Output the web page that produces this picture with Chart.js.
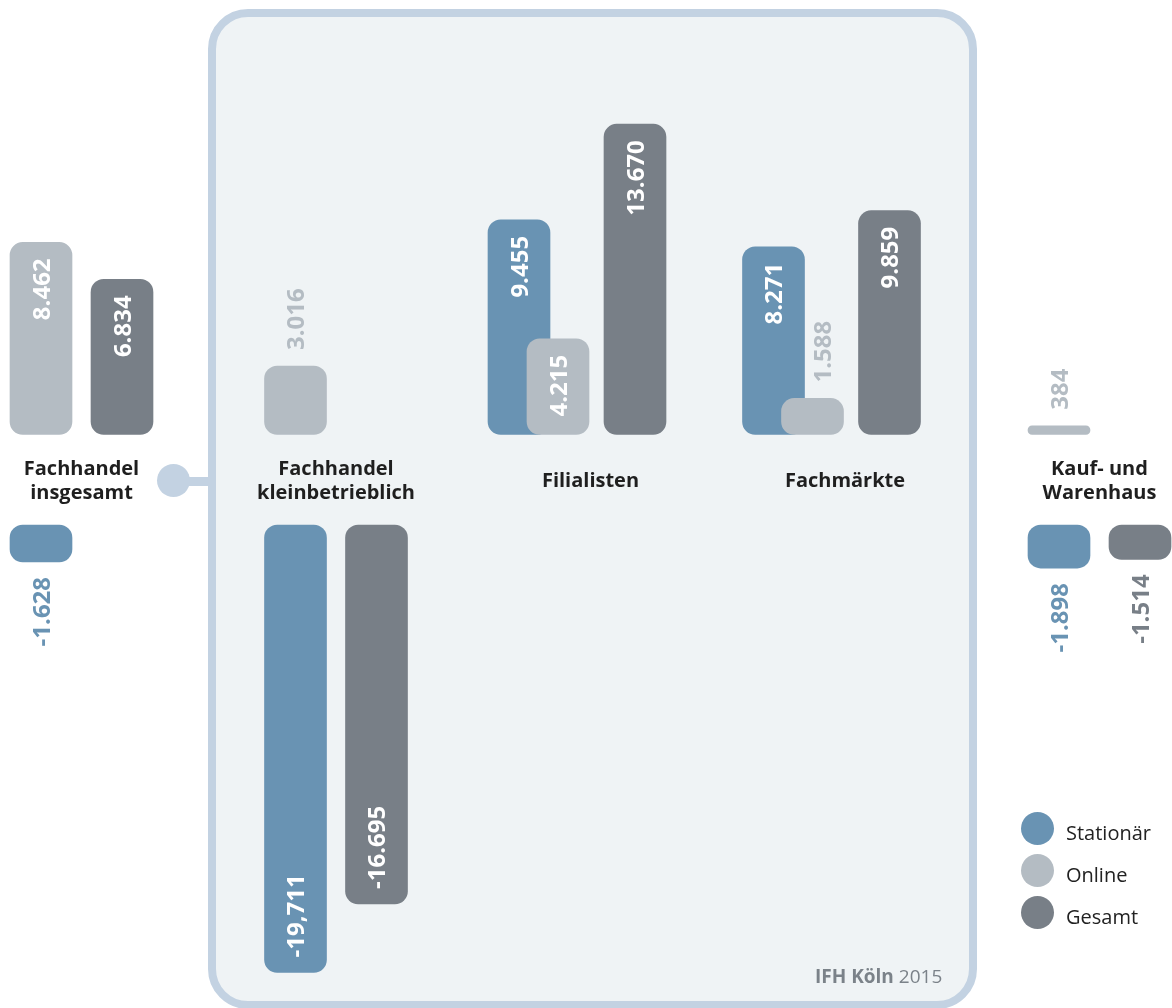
<!DOCTYPE html>
<html lang="de">
<head>
<meta charset="utf-8">
<title>Umsatzveränderung nach Betriebsform</title>
<script src="https://cdn.jsdelivr.net/npm/chart.js@4.4.1/dist/chart.umd.min.js"></script>
<style>
  html, body { margin: 0; padding: 0; background: #fff; }
  body { width: 1172px; height: 1008px; position: relative; overflow: hidden; font-family: "Open Sans", sans-serif; }
  #panel { position: absolute; left: 208px; top: 9px; width: 769px; height: 1000px; box-sizing: border-box;
           border: 8px solid #c3d2e2; border-radius: 40px; background: #eff3f5; }
  #knob { position: absolute; left: 157px; top: 464px; width: 33px; height: 33px; border-radius: 50%; background: #c3d2e2; }
  #stem { position: absolute; left: 185px; top: 477px; width: 26px; height: 9px; background: #c3d2e2; }
  #wrap { position: absolute; left: 0; top: 0; width: 1172px; height: 1008px; }
  #legend { position: absolute; left: 1021px; top: 811px; }
  #legend div { height: 42px; display: flex; align-items: center; font-size: 20px; color: #222; }
  #legend span { width: 33px; height: 33px; border-radius: 50%; margin-right: 12px; margin-top: -8px; }
  #source { position: absolute; left: 815px; top: 964px; font-size: 19px; line-height: 24px; color: #7b8289; }
  #source b { font-weight: 700; }
</style>
</head>
<body>
<div id="panel"></div>
<div id="stem"></div>
<div id="knob"></div>
<div id="wrap"><canvas id="chart" width="1172" height="1008"></canvas></div>
<div id="legend"></div>
<div id="source"><b>IFH Köln</b> 2015</div>
<script>
// Umsatzveränderung in Mio. Euro je Betriebsform
const categories = [['Fachhandel', 'insgesamt'], ['Fachhandel', 'kleinbetrieblich'], ['Filialisten'], ['Fachmärkte'], ['Kauf- und', 'Warenhaus']];
const stationaer = [-1628, -19711, 9455, 8271, -1898];
const online = [8462, 3016, 4215, 1588, 384];
const gesamt = [6834, -16695, 13670, 9859, -1514];
const stationaerText = ['-1.628', '-19,711', '9.455', '8.271', '-1.898'];
const onlineText = ['8.462', '3.016', '4.215', '1.588', '384'];
const gesamtText = ['6.834', '-16.695', '13.670', '9.859', '-1.514'];

const series = [
  { name: 'Stationär', values: stationaer, text: stationaerText, color: '#6993b3', order: 1 },
  { name: 'Online', values: online, text: onlineText, color: '#b4bcc3', order: 0 },
  { name: 'Gesamt', values: gesamt, text: gesamtText, color: '#787f87', order: 1 }
];

// layout
const W = 1172, H = 1008;
const PX_PER_UNIT = 0.0227;
const ZERO_UP = 434.5, ZERO_DOWN = 525, SPLIT = 480;
const GROUP_PX = 254.5, FIRST_PX = 81.5;
const SLOTS_2 = [-40.5, 40.5], SLOTS_3 = [-71.5, -32.5, 44.5];

// bars of one sign are packed from the left inside their group
function slotOffset(i, si) {
  const up = series[si].values[i] >= 0;
  const members = series.map((s, k) => k).filter(k => (series[k].values[i] >= 0) === up);
  const slots = members.length === 3 ? SLOTS_3 : SLOTS_2;
  return slots[members.indexOf(si)] / GROUP_PX;
}

const datasets = [];
series.forEach((s, si) => {
  ['up', 'down'].forEach(side => {
    const pts = [], txt = [];
    s.values.forEach((v, i) => {
      if ((v >= 0) !== (side === 'up')) return;
      pts.push({ x: i + slotOffset(i, si), y: v });
      txt.push(s.text[i]);
    });
    datasets.push({
      label: s.name, data: pts, valueText: txt, side: side,
      yAxisID: side === 'up' ? 'yUp' : 'yDown',
      backgroundColor: s.color, order: s.order
    });
  });
});

const valueLabels = {
  id: 'valueLabels',
  afterDatasetsDraw(chart) {
    const ctx = chart.ctx;
    const allBars = [];
    chart.data.datasets.forEach((ds, di) => {
      chart.getDatasetMeta(di).data.forEach(bar => allBars.push(bar));
    });
    ctx.save();
    ctx.font = 'bold 24px "Open Sans"';
    ctx.textBaseline = 'alphabetic';
    chart.data.datasets.forEach((ds, di) => {
      chart.getDatasetMeta(di).data.forEach((bar, j) => {
        const text = ds.valueText[j];
        const top = Math.min(bar.y, bar.base), bottom = Math.max(bar.y, bar.base);
        const tw = ctx.measureText(text).width;
        const inside = tw + 30 <= bottom - top;
        let x = bar.x, y, align;
        if (ds.side === 'up') {
          if (inside) { y = top + 16; align = 'right'; } else { y = top - 16; align = 'left'; }
        } else {
          if (inside) { y = bottom - 15; align = 'left'; } else { y = bottom + 15; align = 'right'; }
        }
        if (!inside && ds.side === 'up') {
          // move an outside label clear of a taller neighbouring bar
          allBars.forEach(other => {
            if (other === bar || other.base !== bar.base) return;
            const l = other.x - other.width / 2, r = other.x + other.width / 2;
            if (other.y < y && l < x + 10 && r > x - 10 && r < bar.x + bar.width / 2) x = r + 18;
          });
        }
        ctx.save();
        ctx.translate(x, y);
        ctx.rotate(-Math.PI / 2);
        ctx.textAlign = align;
        ctx.fillStyle = inside ? '#ffffff' : ds.backgroundColor;
        ctx.fillText(text, 0, 8.5);
        ctx.restore();
      });
    });
    ctx.restore();
  }
};

const categoryLabels = {
  id: 'categoryLabels',
  afterDraw(chart) {
    const ctx = chart.ctx, xs = chart.scales.x;
    const mid = chart.scales.yUp.bottom + 1;
    ctx.save();
    ctx.font = 'bold 20px "Open Sans"';
    ctx.fillStyle = '#1f1f1f';
    ctx.textAlign = 'center';
    ctx.textBaseline = 'middle';
    categories.forEach((lines, i) => {
      const x = xs.getPixelForValue(i);
      const y0 = mid - (lines.length - 1) * 12;
      lines.forEach((l, k) => ctx.fillText(l, x, y0 + k * 24));
    });
    ctx.restore();
  }
};

new Chart(document.getElementById('chart'), {
  type: 'bar',
  data: { datasets: datasets },
  options: {
    responsive: false,
    animation: false,
    layout: { padding: 0 },
    datasets: {
      bar: { barThickness: 62, grouped: false, borderRadius: 13, borderSkipped: false }
    },
    plugins: { legend: { display: false }, tooltip: { enabled: false } },
    scales: {
      x: {
        type: 'linear', display: false, bounds: 'data', offset: false,
        min: -FIRST_PX / GROUP_PX, max: (W - FIRST_PX) / GROUP_PX
      },
      // left stacked axes are laid out last-declared first, so the lower half comes first here
      yDown: {
        type: 'linear', position: 'left', display: false, bounds: 'data',
        stack: 'split', stackWeight: H - SPLIT,
        min: -(H - ZERO_DOWN) / PX_PER_UNIT, max: (ZERO_DOWN - SPLIT) / PX_PER_UNIT
      },
      yUp: {
        type: 'linear', position: 'left', display: false, bounds: 'data',
        stack: 'split', stackWeight: SPLIT,
        min: -(SPLIT - ZERO_UP) / PX_PER_UNIT, max: ZERO_UP / PX_PER_UNIT
      }
    }
  },
  plugins: [valueLabels, categoryLabels]
});

const legend = document.getElementById('legend');
series.forEach(s => {
  const row = document.createElement('div');
  row.innerHTML = '<span style="background:' + s.color + '"></span>' + s.name;
  legend.appendChild(row);
});
</script>
</body>
</html>
